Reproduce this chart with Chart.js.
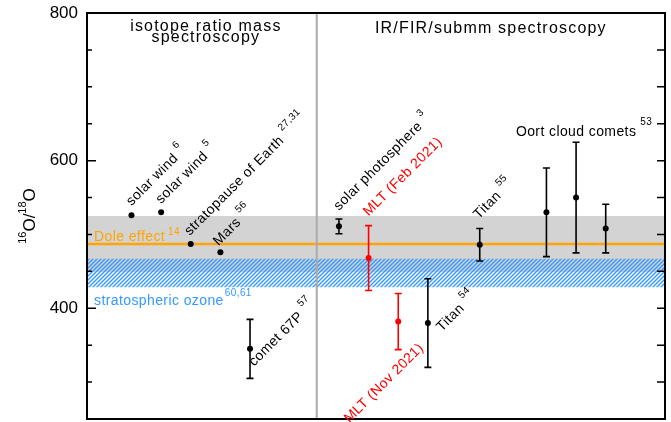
<!DOCTYPE html>
<html>
<head>
<meta charset="utf-8">
<script src="https://cdn.jsdelivr.net/npm/chart.js@4.4.0/dist/chart.umd.min.js"></script>
<style>
  html, body { margin: 0; padding: 0; background: #fff; }
</style>
</head>
<body>
<canvas id="myChart" width="671" height="422"></canvas>
<script>
// 16O/18O ratios, left = isotope ratio mass spectroscopy, right = IR/FIR/submm
var names  = ['solar wind', 'solar wind', 'stratopause of Earth', 'Mars', 'comet 67P',
              'solar photosphere', 'MLT (Feb 2021)', 'MLT (Nov 2021)', 'Titan', 'Titan',
              '', 'Oort cloud comets', ''];
var refs   = ['6', '5', '27,31', '56', '57', '3', '', '', '54', '55', '', '53', ''];
var xPos   = [1.5, 2.5, 3.5, 4.5, 5.5, 8.5, 9.5, 10.5, 11.5, 13.25, 15.5, 16.5, 17.5];
var ratio  = [526, 530, 487, 476, 345, 511, 468, 382, 380, 486, 530, 550, 508];
var errs   = [0, 0, 0, 0, 40, 10, 44, 38, 60, 22, 60, 75, 33];
var isMLT  = [0, 0, 0, 0, 0, 0, 1, 1, 0, 0, 0, 0, 0];

var yTicks = [400, 600, 800];
var yMinor = [250, 300, 350, 450, 500, 550, 650, 700, 750];
var doleEffect = 487;
var doleBand = [449, 525];
var ozoneBand = [428.5, 467];
var divider = 7.75;

// where each label sits relative to its point (screen px)
var labelPos = [
    {at: 'top', dx: 0, dy: -9},
    {at: 'top', dx: 0, dy: -8},
    {at: 'top', dx: -1, dy: -8},
    {at: 'top', dx: -2, dy: -6},
    {at: 'mid', dx: 4, dy: 18},
    {at: 'top', dx: 0, dy: -8},
    {at: 'top', dx: 0, dy: -9},
    {at: 'bot', dx: 26, dy: -1, align: 'right'},
    {at: 'mid', dx: 14, dy: 9},
    {at: 'top', dx: -1, dy: -9},
    null,
    {at: 'top', dx: 0, dy: -6, flat: true},
    null
];

var FONT = '"Liberation Sans", Arial, sans-serif';

var hatch = (function () {
    var c = document.createElement('canvas');
    c.width = 4; c.height = 4;
    var g = c.getContext('2d');
    g.strokeStyle = '#3399ff';
    g.lineWidth = 1.4;
    g.beginPath();
    g.moveTo(-1, 5); g.lineTo(5, -1);
    g.moveTo(-1, 1); g.lineTo(1, -1);
    g.moveTo(3, 5); g.lineTo(5, 3);
    g.stroke();
    return g.createPattern(c, 'repeat');
})();

var points = [];
for (var i in ratio) {
    points.push({x: xPos[i], y: ratio[i]});
}

var decorPlugin = {
    id: 'decor',
    beforeDatasetsDraw: function (chart) {
        var ctx = chart.ctx, a = chart.chartArea;
        var xs = chart.scales.x, ys = chart.scales.y;
        ctx.save();
        // grey Dole band
        var t = ys.getPixelForValue(doleBand[1]), b = ys.getPixelForValue(doleBand[0]);
        ctx.fillStyle = '#d3d3d3';
        ctx.fillRect(a.left, t, a.right - a.left, b - t);
        // stratospheric ozone hatch
        t = ys.getPixelForValue(ozoneBand[1]); b = ys.getPixelForValue(ozoneBand[0]);
        ctx.fillStyle = hatch;
        ctx.fillRect(a.left, t, a.right - a.left, b - t);
        // Dole effect line
        var yd = ys.getPixelForValue(doleEffect);
        ctx.strokeStyle = '#ffa500';
        ctx.lineWidth = 2.5;
        ctx.beginPath(); ctx.moveTo(a.left, yd); ctx.lineTo(a.right, yd); ctx.stroke();
        // divider between the two methods
        var xd = xs.getPixelForValue(divider);
        ctx.strokeStyle = '#aaaaaa';
        ctx.lineWidth = 2;
        ctx.beginPath(); ctx.moveTo(xd, a.top); ctx.lineTo(xd, a.bottom); ctx.stroke();
        // error bars
        ctx.lineWidth = 1.6;
        for (var i = 0; i < ratio.length; i++) {
            if (!errs[i]) continue;
            var px = xs.getPixelForValue(xPos[i]);
            var y1 = ys.getPixelForValue(ratio[i] + errs[i]);
            var y2 = ys.getPixelForValue(ratio[i] - errs[i]);
            ctx.strokeStyle = isMLT[i] ? '#ff0000' : '#000000';
            ctx.beginPath();
            ctx.moveTo(px, y1); ctx.lineTo(px, y2);
            ctx.moveTo(px - 3.5, y1); ctx.lineTo(px + 3.5, y1);
            ctx.moveTo(px - 3.5, y2); ctx.lineTo(px + 3.5, y2);
            ctx.stroke();
        }
        ctx.restore();
    },
    afterDatasetsDraw: function (chart) {
        var ctx = chart.ctx, a = chart.chartArea;
        var xs = chart.scales.x, ys = chart.scales.y;
        ctx.save();
        // frame and inward ticks
        ctx.strokeStyle = '#000';
        ctx.lineWidth = 2;
        ctx.strokeRect(a.left, a.top, a.right - a.left, a.bottom - a.top);
        ctx.lineWidth = 1.5;
        ctx.beginPath();
        yTicks.forEach(function (v) {
            var y = ys.getPixelForValue(v);
            ctx.moveTo(a.left, y); ctx.lineTo(a.left + 9, y);
            ctx.moveTo(a.right, y); ctx.lineTo(a.right - 8, y);
        });
        yMinor.forEach(function (v) {
            var y = ys.getPixelForValue(v);
            ctx.moveTo(a.left, y); ctx.lineTo(a.left + 5, y);
            ctx.moveTo(a.right, y); ctx.lineTo(a.right - 8, y);
        });
        ctx.stroke();

        // panel titles
        var xd = xs.getPixelForValue(divider);
        ctx.fillStyle = '#000';
        ctx.font = '16px ' + FONT;
        ctx.letterSpacing = '1.2px';
        ctx.textAlign = 'center';
        ctx.textBaseline = 'alphabetic';
        ctx.fillText('isotope ratio mass', (a.left + xd) / 2 + 4, a.top + 18);
        ctx.fillText('spectroscopy', (a.left + xd) / 2 + 4, a.top + 29);
        ctx.fillText('IR/FIR/submm spectroscopy', (xd + a.right) / 2, a.top + 19.5);

        // band labels
        ctx.letterSpacing = '0.4px';
        ctx.textAlign = 'left';
        ctx.font = '14px ' + FONT;
        ctx.fillStyle = '#ffa500';
        var yd = ys.getPixelForValue(doleEffect) - 3.5;
        ctx.fillText('Dole effect', a.left + 7, yd);
        var w = ctx.measureText('Dole effect').width;
        ctx.font = '10px ' + FONT;
        ctx.fillText('14', a.left + 7 + w + 3, yd - 6);
        ctx.font = '14px ' + FONT;
        ctx.fillStyle = '#3399ff';
        var yo = ys.getPixelForValue(ozoneBand[0]) + 18;
        ctx.fillText('stratospheric ozone', a.left + 7, yo);
        w = ctx.measureText('stratospheric ozone').width;
        ctx.font = '10px ' + FONT;
        ctx.fillText('60,61', a.left + 7 + w + 1, yo - 9);

        // point labels
        for (var i = 0; i < names.length; i++) {
            var p = labelPos[i];
            if (!p || !names[i]) continue;
            var px = xs.getPixelForValue(xPos[i]);
            var py;
            if (p.at == 'top') py = ys.getPixelForValue(ratio[i] + errs[i]);
            else if (p.at == 'bot') py = ys.getPixelForValue(ratio[i] - errs[i]);
            else py = ys.getPixelForValue(ratio[i]);
            ctx.save();
            ctx.translate(px + p.dx, py + p.dy);
            if (!p.flat) ctx.rotate(-Math.PI / 4);
            ctx.fillStyle = isMLT[i] ? '#ff0000' : '#000000';
            ctx.font = '14px ' + FONT;
            ctx.textAlign = p.align || (p.flat ? 'center' : 'left');
            ctx.fillText(names[i], 0, 0);
            if (refs[i]) {
                var tw = ctx.measureText(names[i]).width;
                var sx = p.flat ? tw / 2 + 4 : tw + 5;
                ctx.font = '10px ' + FONT;
                ctx.textAlign = 'left';
                ctx.fillText(refs[i], sx, p.flat ? -11 : -9);
            }
            ctx.restore();
        }

        // y axis title 16O/18O
        ctx.letterSpacing = '0px';
        ctx.save();
        ctx.translate(35, (a.top + a.bottom) / 2);
        ctx.rotate(-Math.PI / 2);
        ctx.fillStyle = '#000';
        var parts = [['16', 1], ['O', 0], ['/', 0], ['18', 1], ['O', 0]];
        var total = 0;
        parts.forEach(function (q) {
            ctx.font = (q[1] ? '11px ' : '17px ') + FONT;
            total += ctx.measureText(q[0]).width;
        });
        var cx = -total / 2;
        ctx.textAlign = 'left';
        parts.forEach(function (q) {
            ctx.font = (q[1] ? '11px ' : '17px ') + FONT;
            ctx.fillText(q[0], cx, q[1] ? -9 : 0);
            cx += ctx.measureText(q[0]).width;
        });
        ctx.restore();
        ctx.restore();
    }
};

var ctx = document.getElementById('myChart').getContext('2d');
var myChart = new Chart(ctx, {
    type: 'scatter',
    data: {
        datasets: [{
            label: '16O/18O',
            data: points,
            pointRadius: 3,
            pointHoverRadius: 3,
            pointBorderWidth: 0,
            pointBackgroundColor: isMLT.map(function (m) { return m ? '#ff0000' : '#000000'; })
        }]
    },
    options: {
        responsive: false,
        animation: false,
        layout: { padding: { top: 13, right: 6, bottom: 1, left: 0 } },
        plugins: {
            legend: { display: false },
            tooltip: { enabled: false }
        },
        scales: {
            x: {
                type: 'linear',
                min: 0,
                max: 19.5,
                display: false
            },
            y: {
                type: 'linear',
                min: 250,
                max: 800,
                grid: { display: false, drawTicks: false },
                border: { display: false },
                afterBuildTicks: function (scale) {
                    scale.ticks = yTicks.map(function (v) { return {value: v}; });
                },
                afterFit: function (scale) {
                    scale.width = 87;
                    scale.paddingTop = 0;
                    scale.paddingBottom = 0;
                },
                ticks: {
                    padding: 9,
                    color: '#000',
                    font: { family: FONT, size: 17 }
                }
            }
        }
    },
    plugins: [decorPlugin]
});
</script>
</body>
</html>
